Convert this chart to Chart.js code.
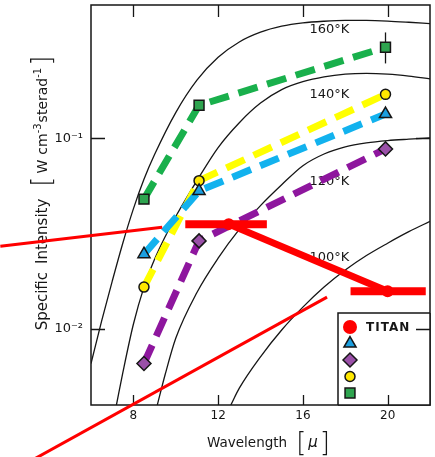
<!DOCTYPE html>
<html>
<head>
<meta charset="utf-8">
<title>Specific intensity vs wavelength</title>
<script src="https://cdn.jsdelivr.net/npm/chart.js@4.4.1/dist/chart.umd.min.js"></script>
<style>
  html, body { margin: 0; padding: 0; background: #fff; }
  canvas { display: block; }
</style>
</head>
<body>
<canvas id="intensity" width="435" height="457"></canvas>
<script>
'use strict';

// ══════════════════════════════════════
// DATA  (wavelength in microns, intensity in W cm^-3 sterad^-1)
// ══════════════════════════════════════

// Blackbody curves
var bb160Wl  = [6.0, 6.5, 7.0, 7.5, 8.0, 8.5, 9.0, 10, 11, 12, 13, 14, 15, 16, 17, 18, 19, 20, 21, 22];
var bb160Val = [0.0066, 0.011, 0.0178, 0.0282, 0.0427, 0.061, 0.0822, 0.1365, 0.2018, 0.266, 0.320, 0.360, 0.387, 0.403, 0.411, 0.415, 0.415, 0.412, 0.406, 0.399];

var bb140Wl  = [7.2, 7.5, 8.0, 8.5, 9.0, 9.5, 10, 11, 12, 13, 14, 15, 16, 17, 18, 19, 20, 21, 22];
var bb140Val = [0.0040, 0.00589, 0.0106, 0.0166, 0.0232, 0.0305, 0.0389, 0.060, 0.0895, 0.1208, 0.153, 0.180, 0.198, 0.210, 0.217, 0.219, 0.217, 0.212, 0.205];

var bb120Wl  = [9.13, 9.5, 10, 11, 12, 13, 14, 15, 16, 17, 18, 19, 20, 21, 22];
var bb120Val = [0.0040, 0.00578, 0.00895, 0.01556, 0.02355, 0.0333, 0.0444, 0.0571, 0.0719, 0.0828, 0.0902, 0.0946, 0.0973, 0.0990, 0.1005];

var bb100Wl  = [12.6, 13, 14, 15, 16, 17, 18, 19, 20, 21, 22];
var bb100Val = [0.0040, 0.0049, 0.00716, 0.00989, 0.01303, 0.0166, 0.0204, 0.0243, 0.0282, 0.0324, 0.0367];

var tempLabels   = ['160°K', '140°K', '120°K', '100°K'];
var tempLabelWl  = [17.25, 17.25, 17.25, 17.25];
var tempLabelVal = [0.372, 0.170, 0.0596, 0.0238];

// Photometry at three wavelengths
var obsWl       = [8.5, 11.1, 19.9];
var greenVal    = [0.048, 0.149, 0.30];
var yellowVal   = [0.0166, 0.060, 0.170];
var blueVal     = [0.0247, 0.053, 0.134];
var purpleVal   = [0.0066, 0.029, 0.088];
var greenErrVal = [0.247, 0.359];          // error bar on the long-wave green point

// Titan
var titanWl     = [12.5, 20.0];
var titanVal    = [0.0355, 0.0158];
var titanBandLo = [10.45, 18.25];
var titanBandHi = [14.3, 21.8];

// Red pen strokes across the figure
var strokeAWl  = [1.72, 9.36];
var strokeAVal = [0.0272, 0.0342];
var strokeBWl  = [3.1, 17.14];
var strokeBVal = [0.00202, 0.0147];

var xTickLabels = [8, 12, 16, 20];
var yTickLabels = { '-1': '10\u207B\u00B9', '-2': '10\u207B\u00B2' };
var legendText  = ['TITAN', '', '', '', ''];

// ══════════════════════════════════════
// STYLE
// ══════════════════════════════════════
var INK  = '#161616';
var FONT = '"DejaVu Sans", sans-serif';
var LINE = { green: '#19b04c', yellow: '#ffff00', blue: '#12b2ee', purple: '#8e169e', red: '#ff0000' };
var FILL = { green: '#2ea44f', yellow: '#ffe800', blue: '#1b9fe0', purple: '#9a50a8', red: '#ff0000' };

function pts(wl, val) {
  return wl.map(function (w, i) { return { x: w, y: val[i] }; });
}

function bbSet(wl, val) {
  return {
    data: pts(wl, val), borderColor: INK, borderWidth: 1.3, pointRadius: 0,
    cubicInterpolationMode: 'monotone', order: 20
  };
}

function obsSet(val, key, style, radius, order) {
  return {
    data: pts(obsWl, val), borderColor: LINE[key], borderWidth: 7,
    borderDash: [20, 10], borderCapStyle: 'butt', tension: 0,
    pointStyle: style, pointRadius: radius, pointBackgroundColor: FILL[key],
    pointBorderColor: INK, pointBorderWidth: 1.5, order: order
  };
}

function redSet(data, width, order) {
  return {
    data: data, borderColor: LINE.red, borderWidth: width, borderCapStyle: 'butt',
    pointRadius: 0, tension: 0, order: order
  };
}

var datasets = [
  // 0: Titan
  {
    data: pts(titanWl, titanVal), borderColor: LINE.red, borderWidth: 7, tension: 0,
    pointStyle: 'circle', pointRadius: 6, pointBackgroundColor: FILL.red,
    pointBorderColor: FILL.red, pointBorderWidth: 0, order: 1
  },
  obsSet(blueVal,   'blue',   'triangle', 7,   4),   // 1
  obsSet(purpleVal, 'purple', 'rectRot',  7,   3),   // 2
  obsSet(yellowVal, 'yellow', 'circle',   5,   5),   // 3
  obsSet(greenVal,  'green',  'rect',     7,   6),   // 4
  redSet([{ x: titanBandLo[0], y: titanVal[0] }, { x: titanBandHi[0], y: titanVal[0] }], 8, 1),
  redSet([{ x: titanBandLo[1], y: titanVal[1] }, { x: titanBandHi[1], y: titanVal[1] }], 8, 1),
  {
    data: [{ x: obsWl[2], y: greenErrVal[0] }, { x: obsWl[2], y: greenErrVal[1] }],
    borderColor: INK, borderWidth: 1.3, pointRadius: 0, order: 7
  },
  bbSet(bb160Wl, bb160Val),
  bbSet(bb140Wl, bb140Val),
  bbSet(bb120Wl, bb120Val),
  bbSet(bb100Wl, bb100Val)
];
var strokeA = redSet(pts(strokeAWl, strokeAVal), 3, 0); strokeA.clip = false;
var strokeB = redSet(pts(strokeBWl, strokeBVal), 3, 0); strokeB.clip = false;
datasets.push(strokeA, strokeB);

var legendIndex = [0, 1, 2, 3, 4];

// ══════════════════════════════════════
// DRAW HELPERS
// ══════════════════════════════════════
function isDecade(v) {
  var e = Math.log10(v);
  return Math.abs(e - Math.round(e)) < 1e-6;
}
function wholeMantissa(v) {
  var m = v / Math.pow(10, Math.floor(Math.log10(v) + 1e-9));
  return Math.abs(m - Math.round(m)) < 1e-6;
}

// inward ticks on all four sides
function strokeTicks(chart) {
  var ctx = chart.ctx, a = chart.chartArea, xs = chart.scales.x, ys = chart.scales.y;
  ctx.beginPath();
  xs.ticks.forEach(function (t) {
    if (t.value <= xs.min || t.value >= xs.max) return;
    var px = Math.round(xs.getPixelForValue(t.value)) + 0.5;
    ctx.moveTo(px, a.bottom); ctx.lineTo(px, a.bottom - 10);
    ctx.moveTo(px, a.top);    ctx.lineTo(px, a.top + 12);
  });
  ys.ticks.forEach(function (t) {
    if (t.value <= ys.min || t.value >= ys.max || !wholeMantissa(t.value)) return;
    var py = Math.round(ys.getPixelForValue(t.value)) + 0.5;
    var len = isDecade(t.value) ? 14 : 10;
    ctx.moveTo(a.left, py);  ctx.lineTo(a.left + len, py);
    ctx.moveTo(a.right, py); ctx.lineTo(a.right - len, py);
  });
  ctx.stroke();
}

function partsWidth(ctx, parts) {
  var w = 0;
  parts.forEach(function (p) {
    if (p.gap) { w += p.gap; return; }
    ctx.font = p.font;
    w += ctx.measureText(p.text).width;
  });
  return w;
}
function drawParts(ctx, parts, x0, y0) {
  var x = x0;
  parts.forEach(function (p) {
    if (p.gap) { x += p.gap; return; }
    ctx.font = p.font;
    ctx.fillText(p.text, x, y0 + (p.dy || 0));
    x += ctx.measureText(p.text).width;
  });
}

var BRACKET = '200 26px ' + FONT;
var yTitleParts = [
  { text: 'Specific', font: '15px ' + FONT }, { gap: 8 },
  { text: 'Intensity', font: '15px ' + FONT }, { gap: 12 },
  { text: '[', font: BRACKET, dy: 3 }, { gap: 3 },
  { text: 'W', font: '14px ' + FONT }, { gap: 5 },
  { text: 'cm', font: '14px ' + FONT },
  { text: '-3', font: '10px ' + FONT, dy: -6 }, { gap: 1 },
  { text: 'sterad', font: '14px ' + FONT },
  { text: '-1', font: '10px ' + FONT, dy: -6 }, { gap: 2 },
  { text: ']', font: BRACKET, dy: 3 }
];
var xTitleParts = [
  { text: 'Wavelength', font: '13.5px ' + FONT }, { gap: 9 },
  { text: '[', font: BRACKET, dy: 4 }, { gap: 2 },
  { text: '\u03BC', font: 'italic 15px ' + FONT }, { gap: 2 },
  { text: ']', font: BRACKET, dy: 4 }
];

function drawTitles(chart) {
  var ctx = chart.ctx, a = chart.chartArea;
  ctx.save();
  ctx.fillStyle = INK;
  ctx.textAlign = 'left';
  ctx.textBaseline = 'alphabetic';
  var w = partsWidth(ctx, xTitleParts);
  drawParts(ctx, xTitleParts, (a.left + a.right) / 2 + 8 - w / 2, a.bottom + 42);

  ctx.translate(a.left - 44, (a.top + a.bottom) / 2 - 12);
  ctx.rotate(-Math.PI / 2);
  w = partsWidth(ctx, yTitleParts);
  drawParts(ctx, yTitleParts, -w / 2, 0);
  ctx.restore();
}

function drawTempLabels(chart) {
  var ctx = chart.ctx, xs = chart.scales.x, ys = chart.scales.y;
  ctx.save();
  ctx.fillStyle = INK;
  ctx.font = '13px ' + FONT;
  ctx.textAlign = 'center';
  ctx.textBaseline = 'middle';
  tempLabels.forEach(function (t, i) {
    ctx.fillText(t, xs.getPixelForValue(tempLabelWl[i]), ys.getPixelForValue(tempLabelVal[i]));
  });
  ctx.restore();
}

function drawLegend(chart) {
  var ctx = chart.ctx, a = chart.chartArea;
  var bx = a.right - 92, by = a.bottom - 92;
  ctx.save();
  ctx.fillStyle = '#fff';
  ctx.fillRect(bx, by, a.right - bx, a.bottom - by);
  ctx.strokeStyle = INK;
  ctx.lineWidth = 1.5;
  ctx.beginPath();
  ctx.moveTo(bx, a.bottom); ctx.lineTo(bx, by); ctx.lineTo(a.right, by);
  ctx.stroke();

  // frame and ticks that sit under the box
  ctx.save();
  ctx.beginPath();
  ctx.rect(bx, by, a.right - bx + 2, a.bottom - by + 2);
  ctx.clip();
  ctx.strokeRect(a.left, a.top, a.right - a.left, a.bottom - a.top);
  ctx.lineWidth = 1.3;
  strokeTicks(chart);
  ctx.restore();

  legendIndex.forEach(function (di, i) {
    var ds = chart.data.datasets[di];
    var cx = bx + 12, cy = by + 14 + i * 16.5;
    var bw = ds.pointBorderWidth || 0;
    var r = di === 0 ? 7 : ds.pointRadius;
    ctx.fillStyle = ds.pointBackgroundColor;
    ctx.strokeStyle = ds.pointBorderColor;
    ctx.lineWidth = bw;
    if (Chart.helpers && Chart.helpers.drawPoint) {
      Chart.helpers.drawPoint(ctx, { pointStyle: ds.pointStyle, radius: r, rotation: 0, borderWidth: bw }, cx, cy);
    } else {
      ctx.beginPath(); ctx.arc(cx, cy, r, 0, Math.PI * 2); ctx.fill();
    }
    if (legendText[i]) {
      ctx.fillStyle = INK;
      ctx.font = 'bold 12px ' + FONT;
      ctx.textAlign = 'left';
      ctx.textBaseline = 'middle';
      if ('letterSpacing' in ctx) ctx.letterSpacing = '1px';
      ctx.fillText(legendText[i], bx + 28, cy + 1);
      if ('letterSpacing' in ctx) ctx.letterSpacing = '0px';
    }
  });
  ctx.restore();
}

var paperPlugin = {
  id: 'paper',
  beforeDraw: function (chart) {
    var ctx = chart.ctx;
    ctx.save();
    ctx.fillStyle = '#fff';
    ctx.fillRect(0, 0, chart.width, chart.height);
    ctx.restore();
  },
  beforeDatasetsDraw: function (chart) {
    var ctx = chart.ctx, a = chart.chartArea;
    ctx.save();
    ctx.strokeStyle = INK;
    ctx.lineWidth = 1.5;
    ctx.strokeRect(a.left, a.top, a.right - a.left, a.bottom - a.top);
    ctx.lineWidth = 1.3;
    strokeTicks(chart);
    ctx.restore();
    drawTempLabels(chart);
    drawTitles(chart);
  },
  afterDatasetsDraw: function (chart) {
    drawLegend(chart);
  }
};

// ══════════════════════════════════════
// CHART
// ══════════════════════════════════════
new Chart(document.getElementById('intensity'), {
  type: 'line',
  data: { datasets: datasets },
  plugins: [paperPlugin],
  options: {
    responsive: false,
    animation: false,
    events: [],
    layout: { autoPadding: false, padding: { top: 5, right: 5, left: 0, bottom: 0 } },
    plugins: { legend: { display: false }, tooltip: { enabled: false } },
    scales: {
      x: {
        type: 'linear', min: 6, max: 22,
        grid: { display: false, drawTicks: false },
        border: { display: false },
        ticks: {
          stepSize: 2, padding: 4, color: INK, maxRotation: 0, autoSkip: false,
          font: { family: FONT, size: 12 },
          callback: function (v) { return xTickLabels.indexOf(v) >= 0 ? String(v) : null; }
        },
        afterFit: function (s) { s.height = 52; s.paddingLeft = 0; s.paddingRight = 0; }
      },
      y: {
        type: 'logarithmic', min: 0.004, max: 0.5,
        grid: { display: false, drawTicks: false },
        border: { display: false },
        ticks: {
          padding: 8, color: INK, autoSkip: false,
          font: { family: FONT, size: 13 },
          callback: function (v) {
            if (!isDecade(v)) return null;
            return yTickLabels[String(Math.round(Math.log10(v)))] || null;
          }
        },
        afterFit: function (s) { s.width = 91; s.paddingTop = 0; s.paddingBottom = 0; }
      }
    }
  }
});
</script>
</body>
</html>
